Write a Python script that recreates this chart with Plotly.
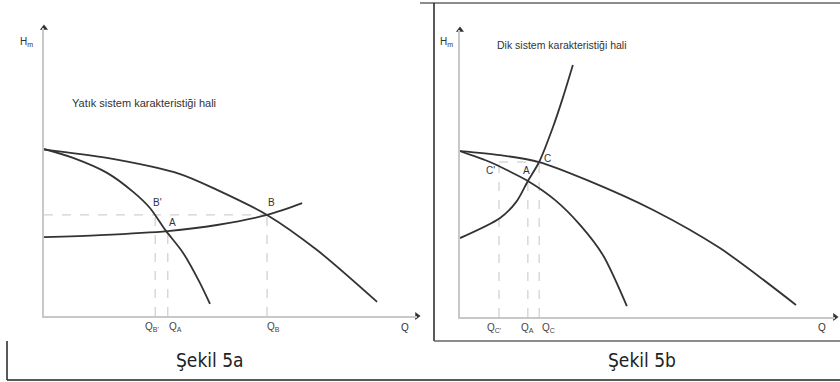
import plotly.graph_objects as go

# ---------------- data (Q, H in relative units 0-100) ----------------
# Panel a: flat system curve
a_pump1_q = [0, 7.8, 16.9, 23.9, 28.4, 32.5, 37.3, 41.8, 44.5]
a_pump1_h = [58.0, 54.9, 49.7, 43.1, 37.5, 29.9, 21.9, 11.5, 4.2]
a_pump2_q = [0, 16.9, 36.5, 46.4, 59.8, 73.2, 89.3]
a_pump2_h = [57.8, 54.9, 49.3, 43.8, 35.1, 22.9, 4.9]
a_sys_q = [0, 15.0, 33.2, 46.4, 59.8, 69.2]
a_sys_h = [27.4, 28.1, 29.5, 31.6, 35.1, 39.2]
a_points = {"B'": (29.8, 35.1), "A": (33.2, 29.5), "B": (59.8, 35.1)}
a_ticks = [29.8, 33.2, 59.8]
a_ticktext = ["Q<sub>B'</sub>", "Q<sub>A</sub>", "Q<sub>B</sub>"]

# Panel b: steep system curve
b_pump1_q = [0, 8.0, 12.5, 18.1, 25.3, 32.0, 38.1, 44.5]
b_pump1_h = [57.8, 54.0, 51.2, 47.4, 40.8, 32.1, 21.6, 3.8]
b_pump2_q = [0, 10.7, 21.1, 33.9, 51.5, 69.3, 89.6]
b_pump2_h = [57.8, 56.4, 54.0, 47.7, 37.3, 24.0, 4.2]
b_sys_q = [0, 10.7, 15.0, 18.1, 21.1, 24.8, 27.5, 30.1]
b_sys_h = [27.5, 34.5, 40.1, 47.4, 54.0, 66.2, 76.7, 87.8]
b_points = {"C'": (10.4, 54.0), "A": (18.1, 47.4), "C": (21.1, 54.0)}
b_ticks = [10.4, 18.1, 21.1]
b_ticktext = ["Q<sub>C'</sub>", "Q<sub>A</sub>", "Q<sub>C</sub>"]

title_a = "Yatık sistem karakteristiği hali"
title_b = "Dik sistem karakteristiği hali"
caption_a = "Şekil 5a"
caption_b = "Şekil 5b"

# ---------------- figure ----------------
W, H = 840, 382
CURVE = dict(color="#333333", width=1.8, shape="spline", smoothing=0.8)
DASH = dict(color="#c4c4c4", width=1, dash="dash")
FONT = "Liberation Sans, Arial, sans-serif"

fig = go.Figure()


def add_panel(xa, ya, p1q, p1h, p2q, p2h, sq, sh):
    for q, h in ((p1q, p1h), (p2q, p2h), (sq, sh)):
        fig.add_trace(go.Scatter(x=q, y=h, mode="lines", line=CURVE,
                                 xaxis=xa, yaxis=ya, hoverinfo="skip",
                                 showlegend=False))


def dashed(xa, ya, xs, ys):
    fig.add_trace(go.Scatter(x=xs, y=ys, mode="lines", line=DASH,
                             xaxis=xa, yaxis=ya, hoverinfo="skip",
                             showlegend=False))


# panel a guides
pa_b1 = a_points["B'"]; pa_a = a_points["A"]; pa_b = a_points["B"]
dashed("x", "y", [0, pa_b[0]], [pa_b[1], pa_b[1]])
dashed("x", "y", [pa_b1[0], pa_b1[0]], [0, pa_b1[1]])
dashed("x", "y", [pa_a[0], pa_a[0]], [0, pa_a[1]])
dashed("x", "y", [pa_b[0], pa_b[0]], [0, pa_b[1]])
# panel b guides
pb_c1 = b_points["C'"]; pb_a = b_points["A"]; pb_c = b_points["C"]
dashed("x2", "y2", [pb_c1[0], pb_c[0]], [pb_c[1], pb_c[1]])
dashed("x2", "y2", [pb_c1[0], pb_c1[0]], [0, pb_c1[1]])
dashed("x2", "y2", [pb_a[0], pb_a[0]], [0, pb_a[1]])
dashed("x2", "y2", [pb_c[0], pb_c[0]], [0, pb_c[1]])

add_panel("x", "y", a_pump1_q, a_pump1_h, a_pump2_q, a_pump2_h, a_sys_q, a_sys_h)
add_panel("x2", "y2", b_pump1_q, b_pump1_h, b_pump2_q, b_pump2_h, b_sys_q, b_sys_h)

# axis arrowheads as markers at the axis ends
for xa, ya in (("x", "y"), ("x2", "y2")):
    fig.add_trace(go.Scatter(x=[0], y=[100], mode="markers", xaxis=xa, yaxis=ya,
                             marker=dict(symbol="triangle-up", size=7, color="#333333"),
                             cliponaxis=False, hoverinfo="skip", showlegend=False))
    fig.add_trace(go.Scatter(x=[100], y=[0], mode="markers", xaxis=xa, yaxis=ya,
                             marker=dict(symbol="triangle-right", size=7, color="#333333"),
                             cliponaxis=False, hoverinfo="skip", showlegend=False))

axis_common = dict(range=[0, 100], showgrid=False, zeroline=False,
                   showline=True, linecolor="#c8c8c8", linewidth=2,
                   fixedrange=True, showticklabels=False, ticks="")

XA = (44, 417)      # panel a x-axis pixel span
YA = (316, 28)      # panel a y-axis pixel span (bottom, top)
XB = (460, 835)
YB = (317, 30)

fig.update_layout(
    width=W, height=H,
    margin=dict(l=0, r=0, t=0, b=0),
    paper_bgcolor="white", plot_bgcolor="white",
    font=dict(family=FONT, color="#333333"),
    xaxis=dict(domain=[XA[0] / W, XA[1] / W], anchor="y", **axis_common),
    yaxis=dict(domain=[(H - YA[0]) / H, (H - YA[1]) / H], anchor="x", **axis_common),
    xaxis2=dict(domain=[XB[0] / W, XB[1] / W], anchor="y2", **axis_common),
    yaxis2=dict(domain=[(H - YB[0]) / H, (H - YB[1]) / H], anchor="x2", **axis_common),
)

ann = []


def label(text, x, y, xref, yref, size=10, xanchor="center", color="#333333",
          yanchor="middle", xshift=0, yshift=0):
    ann.append(dict(text=text, x=x, y=y, xref=xref, yref=yref, showarrow=False,
                    xanchor=xanchor, yanchor=yanchor, xshift=xshift, yshift=yshift,
                    font=dict(size=size, color=color, family=FONT)))


# Q tick labels under the axis, tied to the data positions
for val, txt, dx in zip(a_ticks, a_ticktext, (-3, 8, 6)):
    label(txt, val, 0, "x", "y", size=10, yanchor="top", xshift=dx, yshift=-3,
          color="#444444")
for val, txt, dx in zip(b_ticks, b_ticktext, (-5, 0, 9)):
    label(txt, val, 0, "x2", "y2", size=10, yanchor="top", xshift=dx, yshift=-3,
          color="#444444")

# axis titles (paper coords, outside the plotting areas)
label("H<sub>m</sub>", 27 / W, (H - 42) / H, "paper", "paper", size=10)
label("Q", 405 / W, (H - 327) / H, "paper", "paper", size=10)
label("H<sub>m</sub>", 446 / W, (H - 42) / H, "paper", "paper", size=10)
label("Q", 822 / W, (H - 327) / H, "paper", "paper", size=10)
# panel titles
label(title_a, 7.0, 74.0, "x", "y", size=11, xanchor="left")
label(title_b, 9.3, 94.8, "x2", "y2", size=10.5, xanchor="left")
# point labels
label("B'", 30.3, 39.4, "x", "y")
label("A", 34.4, 32.6, "x", "y")
label("B", 61.1, 39.4, "x", "y")
label("C'", 8.0, 51.2, "x2", "y2")
label("A", 17.6, 51.2, "x2", "y2")
label("C", 23.4, 55.3, "x2", "y2")
# captions
for txt, cx in ((caption_a, 210 / W), (caption_b, 642 / W)):
    ann.append(dict(text=txt, x=cx, y=(H - 360) / H, xref="paper", yref="paper",
                    showarrow=False, xanchor="center", yanchor="middle",
                    font=dict(size=19, color="#222222",
                              family="Liberation Sans Narrow, DejaVu Sans Condensed, sans-serif")))
fig.update_layout(annotations=ann)


def pline(x0, y0, x1, y1, color, width=1.5):
    return dict(type="line", xref="paper", yref="paper",
                x0=x0 / W, y0=(H - y0) / H, x1=x1 / W, y1=(H - y1) / H,
                line=dict(color=color, width=width))


fig.update_layout(shapes=[
    pline(7, 341, 7, 380, "#222222"),
    pline(7, 380, 840, 380, "#222222"),
    pline(420, 3, 840, 3, "#666666"),
    pline(434, 3, 434, 341, "#222222"),
    pline(434, 341, 840, 341, "#666666"),
])

fig.write_html(
    "out.html",
    config={"displayModeBar": False},
    post_script="document.body.style.margin='0';document.body.style.overflow='hidden';",
)
